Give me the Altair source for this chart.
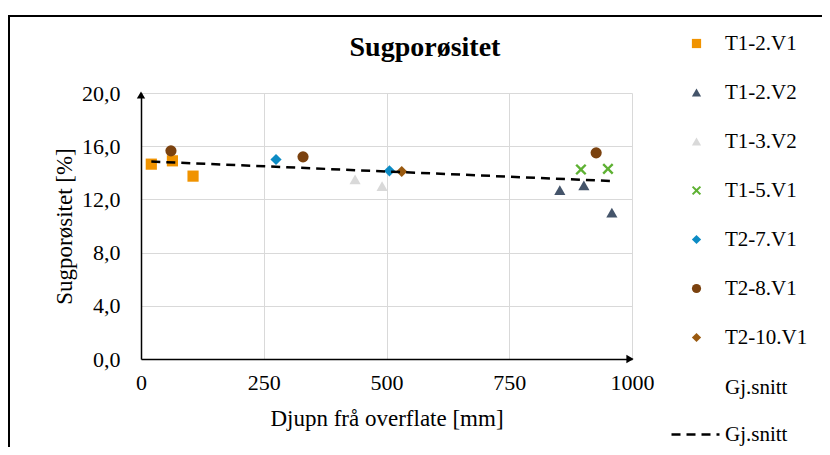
import altair as alt
import pandas as pd

# ---- data ----
series = ["T1-2.V1", "T1-2.V2", "T1-3.V2", "T1-5.V1", "T2-7.V1", "T2-8.V1", "T2-10.V1"]
colors = ["#F09300", "#44546A", "#D9D9D9", "#5EB133", "#0C8BC4", "#7B420F", "#9A5A10"]

x_t12v1 = [21, 64, 106]
y_t12v1 = [14.65, 14.9, 13.75]
x_t12v2 = [853, 902, 959]
y_t12v2 = [12.7, 13.05, 11.0]
x_t13v2 = [436, 491]
y_t13v2 = [13.5, 13.0]
x_t15v1 = [896, 951]
y_t15v1 = [14.25, 14.3]
x_t27v1 = [275, 506]
y_t27v1 = [15.0, 14.15]
x_t28v1 = [61, 330, 927]
y_t28v1 = [15.65, 15.2, 15.5]
x_t210v1 = [531]
y_t210v1 = [14.1]

trend_labels = ["Gj.snitt", "Gj.snitt "]
trend_x = [21, 959]
trend_y = [14.85, 13.38]

x_ticks = [0, 250, 500, 750, 1000]
y_ticks = [0, 4, 8, 12, 16, 20]
title_text = "Sugporøsitet"

# ---- tables ----
xs = [x_t12v1, x_t12v2, x_t13v2, x_t15v1, x_t27v1, x_t28v1, x_t210v1]
ys = [y_t12v1, y_t12v2, y_t13v2, y_t15v1, y_t27v1, y_t28v1, y_t210v1]
rows = []
for name, xl, yl in zip(series, xs, ys):
    for xv, yv in zip(xl, yl):
        rows.append({"series": name, "x": xv, "y": yv})
df = pd.DataFrame(rows)
tdf = pd.DataFrame({"x": trend_x, "y": trend_y, "label": [trend_labels[1]] * len(trend_x)})

FONT = "'Liberation Serif', 'Times New Roman', Times, serif"
XPATH = "M-1,-0.7L-0.7,-1L0,-0.3L0.7,-1L1,-0.7L0.3,0L1,0.7L0.7,1L0,0.3L-0.7,1L-1,0.7L-0.3,0Z"
shapes = ["square", "triangle-up", "triangle-up", XPATH, "diamond", "circle", "diamond"]

xscale = alt.Scale(domain=[0, 1000], nice=False)
yscale = alt.Scale(domain=[0, 20], nice=False)

leg1 = alt.Legend(title=None, orient="none", legendX=545, legendY=-60, symbolSize=85,
                  labelOffset=18, rowPadding=27, symbolOpacity=1,
                  labelFont=FONT, labelFontSize=21, labelColor="black")

axis_common = dict(labelFont=FONT, labelFontSize=22, labelColor="black",
                   titleFont=FONT, titleFontSize=23, titleFontWeight="normal",
                   titleColor="black", labelFlush=False)

points = alt.Chart(df).mark_point(filled=True, opacity=1, size=125).encode(
    x=alt.X("x:Q", scale=xscale,
            axis=alt.Axis(values=x_ticks, title="Djupn frå overflate [mm]", format="d",
                          labelPadding=13, titlePadding=14, **axis_common)),
    y=alt.Y("y:Q", scale=yscale,
            axis=alt.Axis(values=y_ticks, title="Sugporøsitet [%]",
                          labelExpr="replace(format(datum.value, '.1f'), '.', ',')",
                          labelPadding=21, titlePadding=5, **axis_common)),
    color=alt.Color("series:N", scale=alt.Scale(domain=series, range=colors), legend=leg1),
    shape=alt.Shape("series:N", scale=alt.Scale(domain=series, range=shapes), legend=leg1),
)

trend = alt.Chart(tdf).mark_line(color="black", strokeWidth=2.5).encode(
    x=alt.X("x:Q", scale=xscale),
    y=alt.Y("y:Q", scale=yscale),
    strokeDash=alt.StrokeDash(
        "label:N",
        scale=alt.Scale(domain=trend_labels, range=[[0, 100], [9, 6]]),
        legend=alt.Legend(title=None, orient="none", legendX=529, legendY=269,
                          symbolType="stroke", symbolSize=2304, symbolStrokeWidth=2.5,
                          symbolStrokeColor="black", labelOffset=4, rowPadding=11,
                          labelFont=FONT, labelFontSize=21, labelColor="black"),
    ),
)

one = pd.DataFrame({"a": [0]})
arrow_y = alt.Chart(one).mark_point(shape="triangle-up", filled=True, color="black",
                                    opacity=1, size=70, yOffset=2).encode(
    x=alt.datum(0, scale=xscale), y=alt.datum(20, scale=yscale))
arrow_x = alt.Chart(one).mark_point(shape="triangle-right", filled=True, color="black",
                                    opacity=1, size=70, xOffset=-2).encode(
    x=alt.datum(1000, scale=xscale), y=alt.datum(0, scale=yscale))

frame = alt.Chart(one).mark_rect(fillOpacity=0, stroke="black", strokeWidth=2).encode(
    x=alt.value(-132), x2=alt.value(900), y=alt.value(-77), y2=alt.value(600))

title = alt.Chart(one).mark_text(text=title_text, font=FONT, fontSize=28, fontWeight="bold",
                                 color="black", align="center", baseline="middle").encode(
    x=alt.value(284), y=alt.value(-45))

chart = alt.layer(frame, points, trend, arrow_y, arrow_x, title).properties(
    width=491, height=266,
    padding={"left": 133, "top": 85, "right": 190, "bottom": 88},
    autosize=alt.AutoSizeParams(type="none"),
    background="white",
).configure(font=FONT).configure_view(strokeWidth=0).configure_axis(
    domainColor="black", domainWidth=1.5, gridColor="#D9D9D9", gridWidth=1,
    ticks=False, tickSize=0,
).configure_legend(
    labelFont=FONT, labelFontSize=21, labelColor="black", padding=0,
)

chart.save("out.html", embed_options={"renderer": "svg", "actions": False})
